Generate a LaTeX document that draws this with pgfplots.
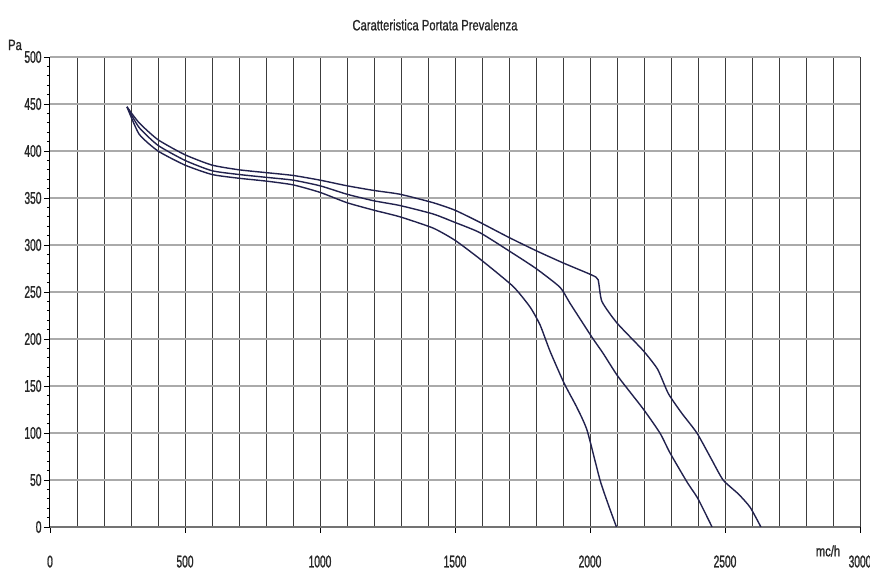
\documentclass[border=0pt]{standalone}
\usepackage{fontspec}
\setmainfont{Liberation Sans}[FakeStretch=0.75, FakeBold=1]
\newfontfamily\narrow{Liberation Sans}[FakeStretch=0.6, FakeBold=1.2]
\usepackage{pgfplots}
\pgfplotsset{compat=1.18}
\definecolor{curve}{RGB}{34,34,78}
\definecolor{vgrid}{RGB}{60,60,60}
\definecolor{hgrid}{RGB}{170,170,170}
\definecolor{xaxis}{RGB}{115,115,115}

% three fan curves: flow (mc/h) vs pressure (Pa)
\pgfplotstableread{
x y
285 447
330 430
400 412
500 396
600 385
700 380
800 377
900 374
1000 369
1100 363
1200 358
1296 354
1419 345
1500 337
1593 324
1700 308
1800 294
1900 281
2007 268
2030 263
2044 240
2100 217
2196 188
2250 168
2290 142
2340 121
2396 100
2450 72
2493 50
2550 35
2593 21
2633 0
}\curvethree

\pgfplotstableread{
x y
285 447
330 425
400 406
500 390
600 379
700 375
800 372
900 369
1000 363
1100 354
1200 347
1296 342
1419 333
1500 324
1593 313
1715 291
1800 275
1889 255
1926 238
2007 202
2048 185
2104 160
2196 126
2259 100
2296 79
2359 48
2400 30
2452 0
}\curvetwo

\pgfplotstableread{
x y
285 447
330 418
400 400
500 385
600 375
700 371
800 368
900 364
1000 356
1100 345
1200 337
1296 330
1419 318
1500 305
1593 285
1715 256
1778 234
1815 215
1852 187
1904 153
1950 128
1989 103
2037 50
2070 22
2098 0
}\curveone

\begin{document}
\begin{tikzpicture}
\useasboundingbox (-50pt,-43pt) rectangle (820pt,527pt);
\begin{axis}[
  scale only axis, width=810pt, height=470pt,
  xmin=0, xmax=3000, ymin=0, ymax=500,
  axis x line=bottom, axis y line=left,
  x axis line style={xaxis, line width=2.5pt, -},
  y axis line style={black, line width=1pt, -},
  xtick={0,500,...,3000}, ytick={0,50,...,500},
  minor x tick num=4, minor y tick num=4,
  grid=both,
  major x grid style={vgrid, line width=1pt},
  minor x grid style={vgrid, line width=1pt},
  major y grid style={hgrid, line width=2.5pt},
  minor y grid style={draw=none},
  tick align=outside,
  major tick length=6pt, minor tick length=3pt,
  minor x tick style={draw=none},
  tick style={black, line width=0.8pt},
  tick label style={font=\narrow\fontsize{17}{17}\selectfont, text=black!85},
  /pgf/number format/assume math mode=true,
  /pgf/number format/1000 sep={},
  xticklabel style={yshift=-19pt},
  yticklabel style={xshift=1pt},
]
\addplot[curve, line width=1.4pt, smooth, tension=0.35] table {\curvethree};
\addplot[curve, line width=1.4pt, smooth, tension=0.35] table {\curvetwo};
\addplot[curve, line width=1.4pt, smooth, tension=0.35] table {\curveone};
\end{axis}
\node[font=\fontsize{15}{15}\selectfont, text=black!85] at (385pt,502pt) {Caratteristica Portata Prevalenza};
\node[font=\fontsize{15}{15}\selectfont, text=black!85] at (-35pt,482pt) {Pa};
\node[font=\fontsize{15}{15}\selectfont, text=black!85] at (778pt,-24pt) {mc/h};
\end{tikzpicture}
\end{document}
